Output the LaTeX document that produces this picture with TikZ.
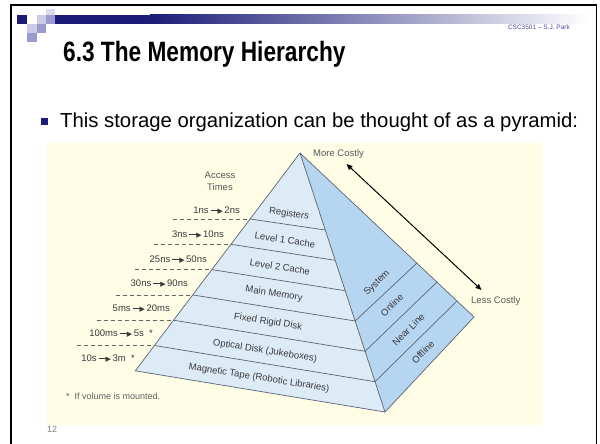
\documentclass[tikz,border=0pt]{standalone}
\usepackage{fontspec}
\setmainfont{Liberation Sans}
\newfontfamily\symfont{DejaVu Sans}
\usetikzlibrary{arrows.meta}

\definecolor{navy}{HTML}{1C1C78}
\definecolor{lav}{HTML}{9A9ACF}
\definecolor{lavlight}{HTML}{CBCBE8}
\definecolor{cream}{HTML}{FFFDE6}
\definecolor{frontblue}{HTML}{DDEBF7}
\definecolor{sideblue}{HTML}{B5D5F0}
\definecolor{edgegray}{HTML}{5B6570}
\definecolor{labelgray}{HTML}{3A3A3A}
\definecolor{headblue}{HTML}{4B4B9A}

% small "line + black triangle" arrow used in the access-time labels
\newcommand\tarr{\kern2pt\rule[0.3em]{8pt}{0.7pt}\kern-1pt{\fontsize{7}{7}\symfont\char"25B6}\kern1.5pt}

\begin{document}
\begin{tikzpicture}[x=1pt,y=-1pt,
  frame/.style={line width=1.8pt,black},
  layer/.style={draw=edgegray,line width=0.7pt},
  dashline/.style={draw=gray!80!black,line width=0.8pt,dash pattern=on 4pt off 3pt},
  timelbl/.style={font=\fontsize{9.5}{11}\selectfont,text=labelgray,anchor=east,inner sep=0pt},
  frontlbl/.style={font=\fontsize{9.5}{11}\selectfont,text=labelgray,inner sep=0pt},
  sidelbl/.style={font=\fontsize{9.5}{11}\selectfont,text=labelgray,inner sep=0pt,rotate=45},
  note/.style={font=\fontsize{9}{11}\selectfont,text=labelgray!80,inner sep=0pt}]
\useasboundingbox (0,0) rectangle (600,444);
\fill[white] (0,0) rectangle (600,444);

% slide frame
\draw[frame] (11,444) -- (11,5) -- (596.5,5) -- (596.5,444);

% header bar and squares
\fill[navy] (55,15) rectangle (150,24);
\shade[left color=navy,right color=white] (150,15) rectangle (590,24);
\fill[navy] (17,15) rectangle (27,24);
\fill[lavlight] (37,15) rectangle (46,24);
\fill[lav] (46,15) rectangle (55,24);
\fill[lavlight!70] (46,9) rectangle (55,15);
\fill[lavlight] (27,24) rectangle (37,33);
\fill[lav] (37,24) rectangle (46,33);
\fill[lav] (27,33) rectangle (37,42);

\node[anchor=base east,font=\fontsize{6.5}{8}\selectfont,text=headblue,inner sep=0pt] (course) at (570,29.5) {CSC3501 – S.J. Park};
\node[anchor=base west,font=\bfseries\fontsize{28}{32}\selectfont,inner sep=0pt,xscale=0.81] (title) at (63,62) {6.3 The Memory Hierarchy};

% bullet line
\fill[navy] (41,118) rectangle (48,125);
\node[anchor=base west,font=\fontsize{20.3}{24}\selectfont,inner sep=0pt] (bullet) at (60,128) {This storage organization can be thought of as a pyramid:};

% page number, partly covered by the figure
\node[anchor=base west,font=\fontsize{9}{10}\selectfont,text=gray,inner sep=0pt] (pagenum) at (47,432) {12};

% figure background
\fill[cream] (47,143) rectangle (543,425);

% pyramid corners and layer boundaries
\coordinate (A) at (300,153);
\coordinate (L1) at (250.0,219);   \coordinate (R1) at (325.3,230);
\coordinate (L2) at (230.9,244.3); \coordinate (R2) at (335.2,260.3);
\coordinate (L3) at (211.8,269.6); \coordinate (R3) at (345.2,290.7);
\coordinate (L4) at (192.7,294.9); \coordinate (R4) at (355.1,321);
\coordinate (L5) at (173.5,320.2); \coordinate (R5) at (365.1,351.3);
\coordinate (L6) at (154.4,345.5); \coordinate (R6) at (375.0,381.7);
\coordinate (L7) at (135.3,370.8); \coordinate (R7) at (385,412);
\coordinate (O4) at (417,263);
\coordinate (O5) at (437,282);
\coordinate (O6) at (457,301);
\coordinate (O7) at (474,317);

\fill[frontblue] (A) -- (L7) -- (R7) -- cycle;
\fill[sideblue] (A) -- (R7) -- (O7) -- cycle;
\foreach \k in {1,...,6} { \draw[layer] (L\k) -- (R\k); }
\foreach \k in {4,5,6} { \draw[layer] (R\k) -- (O\k); }
\draw[layer] (A) -- (L7) -- (R7) -- (O7) -- cycle;
\draw[layer] (A) -- (R7);

% dashed guides to the access times
\foreach \k in {1,...,6} { \draw[dashline] ([xshift=-77pt]L\k) -- (L\k); }

% access times
\node[font=\fontsize{9.5}{12}\selectfont,text=labelgray!85,align=center,inner sep=0pt] (acc) at (220,181) {Access\\Times};
\node[timelbl] (t1) at (240,210.7) {1ns\tarr 2ns};
\node[timelbl] (t2) at (224,235) {3ns\tarr 10ns};
\node[timelbl] (t3) at (207,259.5) {25ns\tarr 50ns};
\node[timelbl] (t4) at (188,284) {30ns\tarr 90ns};
\node[timelbl] (t5) at (170,308.5) {5ms\tarr 20ms};
\node[timelbl] (t6) at (153,333.5) {100ms\tarr 5s\ \ *};
\node[timelbl] (t7) at (135,359) {10s\tarr 3m\ \ *};
\node[note,anchor=west] (fn) at (66,396) {*\ \ If volume is mounted.};

% storage levels
\node[frontlbl,rotate=-8]   (reg) at (289,214) {Registers};
\node[frontlbl,rotate=-8.5] (l1)  at (285,240) {Level 1 Cache};
\node[frontlbl,rotate=-9]   (l2)  at (280,267) {Level 2 Cache};
\node[frontlbl,rotate=-9]   (mm)  at (274,294) {Main Memory};
\node[frontlbl,rotate=-9]   (fd)  at (268,322) {Fixed Rigid Disk};
\node[frontlbl,rotate=-9]   (od)  at (265,351) {Optical Disk (Jukeboxes)};
\node[frontlbl,rotate=-9]   (mt)  at (259,378) {Magnetic Tape (Robotic Libraries)};

\node[sidelbl] (sys) at (377,283) {System};
\node[sidelbl] (onl) at (392,305) {Online};
\node[sidelbl] (nl)  at (408.5,329.5) {Near Line};
\node[sidelbl] (off) at (423,352) {Offline};

% cost arrow
\node[font=\fontsize{9.5}{11}\selectfont,text=labelgray!85,anchor=west,inner sep=0pt] (more) at (313,154) {More Costly};
\node[font=\fontsize{9.5}{11}\selectfont,text=labelgray!85,anchor=west,inner sep=0pt] (less) at (471,301) {Less Costly};
\coordinate (mc) at (346.5,164);
\coordinate (lc) at (481.5,290);
\draw[{Triangle[length=6pt,width=5pt]}-{Triangle[length=6pt,width=5pt]},line width=1pt] (mc) -- (lc);
\end{tikzpicture}
\end{document}
